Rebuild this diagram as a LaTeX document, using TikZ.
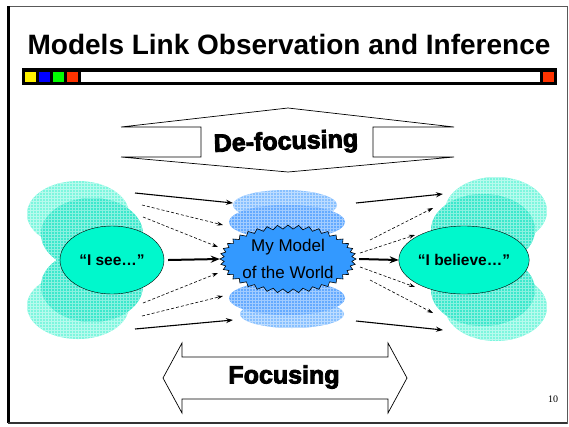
\documentclass[tikz,border=0pt]{standalone}
\usepackage{fontspec}
\setmainfont{Liberation Sans}
\newfontfamily\numfont{Liberation Serif}
\newfontfamily\artfont{Liberation Sans}[FakeBold=3.5]
\usepackage{tikz}
\usetikzlibrary{arrows,arrows.meta,shapes,patterns,positioning}
\definecolor{aquaL}{RGB}{125,246,222}
\definecolor{aquaM}{RGB}{60,232,204}
\definecolor{aquaD}{RGB}{0,248,204}
\definecolor{blueL}{RGB}{135,192,255}
\definecolor{blueM}{RGB}{100,170,255}
\definecolor{blueD}{RGB}{51,153,255}
\definecolor{barred}{RGB}{255,51,0}
\tikzstyle{Aback}=[fill=aquaL,postaction={pattern=grid,pattern color=aquaL!55!white}]
\tikzstyle{Afront}=[fill=aquaM,postaction={pattern=grid,pattern color=aquaM!60!white}]
\tikzstyle{Aview}=[draw,ellipse,fill=aquaD,minimum width=104pt,minimum height=68pt,inner sep=0,
                  font=\fontsize{15.5}{18}\selectfont\bfseries]
\tikzstyle{Ablue}=[fill=blueL,postaction={pattern=grid,pattern color=blueL!55!white}]
\tikzstyle{Ablue2}=[fill=blueM,postaction={pattern=grid,pattern color=blueM!60!white}]
\tikzstyle{Aburst}=[draw,fill=blueD,line width=0.6pt]
\tikzstyle{Amodel}=[ellipse,minimum width=136pt,minimum height=68pt,inner sep=0,align=center,
                  font=\fontsize{17}{27}\selectfont]
\tikzstyle{feed}=[->,>={Stealth[length=7pt,width=5pt]},line width=1.1pt]
\tikzstyle{hint}=[->,>={Stealth[length=6pt,width=4pt]},line width=0.6pt,dash pattern=on 3pt off 2pt]
\tikzstyle{mainarr}=[->,>={Stealth[length=9pt,width=7pt]},line width=2pt]
\tikzstyle{banner}=[draw,line width=0.7pt,fill=white]
\tikzstyle{art}=[font=\fontsize{25}{25}\selectfont\artfont\bfseries]

\begin{document}
\begin{tikzpicture}[x=1pt,y=-1pt]
  \useasboundingbox (0,0) rectangle (569,426);

  % slide frame and heading
  \draw[gray!70!black,line width=1pt] (8,6) rectangle (567,423);
  \draw[line width=2.5pt] (8.5,6) -- (8.5,423);
  \draw[black!80,line width=1.5pt] (8,423) -- (567,423);
  \node[font=\fontsize{28}{30}\selectfont\bfseries,anchor=base] (title) at (289,54)
    {Models Link Observation and Inference};
  \fill (22,68) rectangle (557,85);
  \foreach \c [count=\i from 0] in {yellow,blue,green,barred}
    \fill[\c] (25+14*\i,71.5) rectangle ++(11,10.5);
  \fill[white] (81,71.5) rectangle (540,82);
  \fill[barred] (543,71.5) rectangle (554,82);

  % de-focusing band (open at both ends)
  \fill[white] (121,127) -- (288,108) -- (454,127) -- (454,157) -- (288,172) -- (121,157) -- cycle;
  \draw[line width=0.7pt] (121,127) -- (288,108) -- (454,127)
                          (121,157) -- (288,172) -- (454,157)
                          (121,127) -- (201,127) -- (201,157) -- (121,157)
                          (454,127) -- (373,127) -- (373,157) -- (454,157);
  \node[art,rotate=2] (defocus) at (286,143) {De-focusing};

  % clouds behind the three nodes
  \path[Aback] (78,214) ellipse [x radius=51pt,y radius=33pt]
               (78,306) ellipse [x radius=51pt,y radius=33pt]
               (496,211) ellipse [x radius=51pt,y radius=34pt]
               (496,307) ellipse [x radius=51pt,y radius=34pt];
  \path[Afront] (92,234) ellipse [x radius=51pt,y radius=36pt]
                (92,286) ellipse [x radius=51pt,y radius=36pt]
                (483,230) ellipse [x radius=52pt,y radius=36pt]
                (483,290) ellipse [x radius=52pt,y radius=36pt];
  \path[Ablue] (285,205) ellipse [x radius=52pt,y radius=15pt]
               (292,314) ellipse [x radius=52pt,y radius=14pt];
  \path[Ablue2] (287,222) ellipse [x radius=58pt,y radius=17pt]
                (287,298) ellipse [x radius=58pt,y radius=17pt];

  \node[Aview] (see) at (112,260) {“I see…”};
  \node[Aview] (believe) at (464,260) {“I believe…”};

  % jagged seal round the model
  \coordinate (mc) at (288,259);
  \begin{scope}[shift={(mc)}]
    \draw[Aburst] (68,0) \foreach \a in {0,...,39} {
        -- ({64*cos((\a+0.5)*9)},{30*sin((\a+0.5)*9)})
        -- ({68*cos((\a+1)*9)},{34*sin((\a+1)*9)}) } -- cycle;
  \end{scope}
  \node[Amodel] (model) at (mc) {My Model\\of the World};

  % observation side
  \coordinate (o1) at (135,193); \coordinate (m1) at (233,203);
  \coordinate (o2) at (142,205); \coordinate (m2) at (223,225);
  \coordinate (o3) at (143,217); \coordinate (m3) at (218,247);
  \coordinate (o4) at (143,303); \coordinate (m4) at (218,273);
  \coordinate (o5) at (142,316); \coordinate (m5) at (223,296);
  \coordinate (o6) at (135,329); \coordinate (m6) at (233,320);
  \draw[feed] (o1) -- (m1);
  \draw[feed] (o6) -- (m6);
  \foreach \k in {2,3,4,5} \draw[hint] (o\k) -- (m\k);
  \draw[mainarr] (see.east) ++(4,0) -- (model.west);

  % inference side
  \coordinate (n1) at (356,203); \coordinate (b1) at (443,194);
  \coordinate (n2) at (370,240); \coordinate (b2) at (433,208);
  \coordinate (n3) at (360,253); \coordinate (b3) at (415,235);
  \coordinate (n4) at (360,267); \coordinate (b4) at (415,287);
  \coordinate (n5) at (370,280); \coordinate (b5) at (433,313);
  \coordinate (n6) at (356,321); \coordinate (b6) at (443,330);
  \draw[feed] (n1) -- (b1);
  \draw[feed] (n6) -- (b6);
  \foreach \k in {2,3,4,5} \draw[hint] (n\k) -- (b\k);
  \draw[mainarr] (model.east) ++(3,0) -- (believe.west);

  % focusing double arrow
  \draw[banner] (163,378) -- (182,343) -- (182,357) -- (388,357) -- (388,343) -- (407,378)
    -- (388,413) -- (388,399) -- (182,399) -- (182,413) -- cycle;
  \node[art] (focus) at (284,377) {Focusing};

  \node[font=\numfont\fontsize{10}{10}\selectfont] (pageno) at (553,399) {10};
\end{tikzpicture}
\end{document}
